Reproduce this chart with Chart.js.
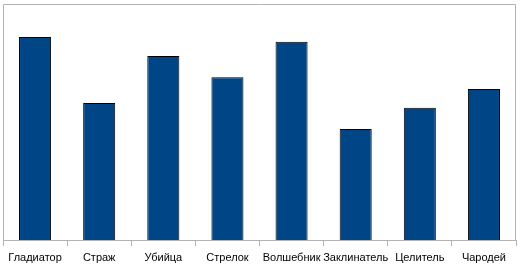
<!DOCTYPE html>
<html>
<head>
<meta charset="utf-8">
<script src="https://cdn.jsdelivr.net/npm/chart.js@4/dist/chart.umd.min.js"></script>
<style>
  html, body { margin: 0; padding: 0; background: #fff; }
  #wrap { width: 520px; height: 270px; }
</style>
</head>
<body>
<div id="wrap"><canvas id="grafico" width="520" height="270"></canvas></div>
<script>
const classes = ['Гладиатор', 'Страж', 'Убийца', 'Стрелок', 'Волшебник', 'Заклинатель', 'Целитель', 'Чародей'];
const valores = [86, 58, 78, 69, 84, 47, 56, 64];
const yMax = 100;

// moldura cinza em volta da área do gráfico
const moldura = {
  id: 'moldura',
  afterDraw(chart) {
    const { ctx, chartArea: a } = chart;
    ctx.save();
    ctx.strokeStyle = '#b3b3b3';
    ctx.lineWidth = 1;
    ctx.beginPath();
    ctx.moveTo(a.left + 0.5, a.bottom);
    ctx.lineTo(a.left + 0.5, a.top + 0.5);
    ctx.lineTo(a.right - 0.5, a.top + 0.5);
    ctx.lineTo(a.right - 0.5, a.bottom);
    ctx.stroke();
    ctx.restore();
  }
};

const ctx = document.getElementById('grafico').getContext('2d');
new Chart(ctx, {
  type: 'bar',
  data: {
    labels: classes,
    datasets: [{
      data: valores,
      backgroundColor: '#004586',
      borderColor: '#000000',
      borderWidth: 1,
      barPercentage: 0.5,
      categoryPercentage: 1
    }]
  },
  options: {
    responsive: false,
    animation: false,
    layout: { padding: { left: 3, top: 4, right: 4, bottom: 0 } },
    plugins: {
      legend: { display: false },
      tooltip: { enabled: false }
    },
    scales: {
      x: {
        offset: true,
        grid: {
          offset: true,
          drawOnChartArea: false,
          tickLength: 6,
          color: '#b3b3b3'
        },
        border: { color: '#b3b3b3' },
        ticks: {
          color: '#000',
          padding: 5,
          maxRotation: 0,
          autoSkip: false,
          font: { family: 'Liberation Sans', size: 11 }
        },
        afterFit(scale) { scale.height = 30; }
      },
      y: {
        display: false,
        min: 0,
        max: yMax
      }
    }
  },
  plugins: [moldura]
});
</script>
</body>
</html>
